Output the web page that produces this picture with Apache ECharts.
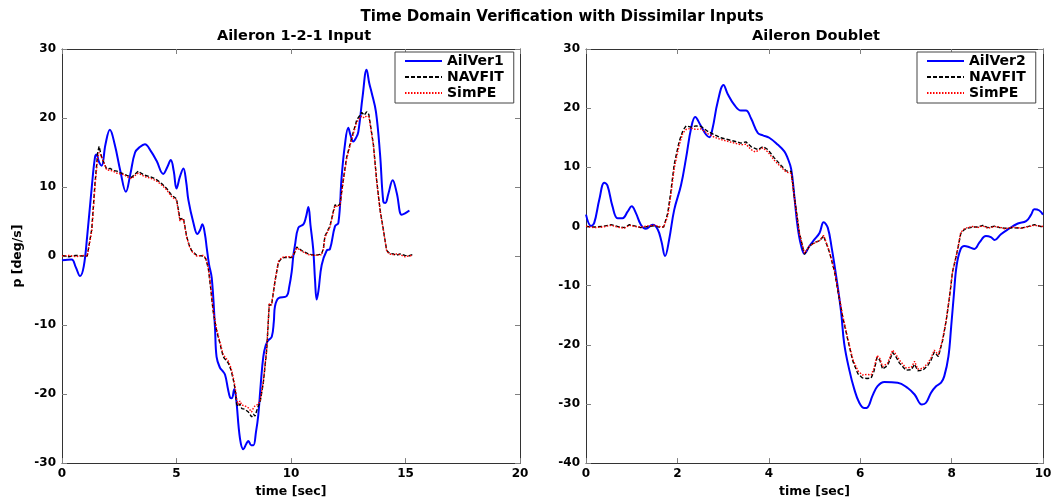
<!DOCTYPE html>
<html>
<head>
<meta charset="utf-8">
<script src="https://cdn.jsdelivr.net/npm/echarts@6/dist/echarts.min.js"></script>
<style>
  html, body { margin: 0; padding: 0; background: #fff; }
  #chart { width: 1058px; height: 503px; }
</style>
</head>
<body>
<div id="chart"></div>
<script>
// Roll rate p [deg/s] against time [sec] for two aileron input shapes.
const titleText = 'Time Domain Verification with Dissimilar Inputs';
const leftTitle = 'Aileron 1-2-1 Input';
const rightTitle = 'Aileron Doublet';

// Aileron 1-2-1 input: [time, p]
const ailVer1 = [[0,-0.6],[0.42,-0.5],[0.6,-1.6],[0.79,-2.9],[0.95,-1.5],[1.1,2.9],[1.3,10],[1.44,14.3],[1.51,14.7],[1.62,13.6],[1.73,13.1],[1.9,16.2],[2.09,18.3],[2.3,16.2],[2.55,12.3],[2.79,9.3],[2.98,11.8],[3.19,15],[3.4,15.8],[3.62,16.2],[3.88,15.2],[4.13,13.8],[4.42,11.9],[4.6,12.9],[4.75,13.9],[4.88,12.3],[5.0,9.8],[5.15,11.5],[5.3,12.7],[5.42,10.8],[5.52,8.1],[5.74,4.8],[5.91,3.2],[6.02,3.7],[6.13,4.6],[6.24,3.2],[6.32,1.2],[6.42,-1.2],[6.54,-3.2],[6.68,-10.3],[6.75,-14.6],[6.9,-16.2],[7.0,-16.6],[7.12,-17.2],[7.25,-19.3],[7.34,-20.5],[7.42,-20.6],[7.52,-19.3],[7.6,-20.5],[7.77,-26.4],[7.92,-28],[8.05,-27.2],[8.14,-26.8],[8.26,-27.4],[8.36,-27.4],[8.47,-25.5],[8.57,-23.1],[8.68,-18.5],[8.79,-14.6],[8.9,-12.9],[9.01,-12.2],[9.16,-11.7],[9.25,-9.5],[9.3,-7.3],[9.45,-6.1],[9.81,-5.8],[9.92,-4.5],[10.03,-2.3],[10.1,0.0],[10.17,1.5],[10.32,4.1],[10.54,4.6],[10.65,5.6],[10.76,7.1],[10.85,4.5],[10.97,1.0],[11.05,-3.5],[11.12,-6.3],[11.2,-5.0],[11.34,-1.3],[11.56,0.8],[11.7,1.0],[11.92,4.3],[12.07,4.8],[12.21,11.4],[12.35,16],[12.5,18.6],[12.6,17.5],[12.72,16.6],[12.85,17.2],[12.94,18],[13.13,23.2],[13.3,27],[13.42,25],[13.52,23.7],[13.71,20.9],[13.89,14.7],[14.03,7.9],[14.12,7.7],[14.25,9],[14.44,11],[14.62,9.1],[14.83,6.0],[14.98,6.2],[15.17,6.6]];

const navfit1 = [[0,0.1],[0.3,-0.1],[0.6,0.1],[0.9,0],[1.1,0],[1.3,3.9],[1.44,10.5],[1.56,15],[1.62,15.9],[1.73,14.3],[1.95,12.6],[2.1,12.7],[2.24,12.4],[2.4,12.3],[2.53,12.1],[2.7,11.9],[2.83,11.7],[3.04,11.4],[3.2,11.9],[3.33,12.3],[3.45,12.0],[3.62,11.7],[3.85,11.5],[4.06,11.2],[4.2,10.9],[4.35,10.5],[4.57,9.8],[4.79,8.8],[5.0,8.3],[5.08,6.8],[5.15,5.3],[5.3,5.5],[5.44,2.9],[5.55,1.6],[5.66,0.8],[5.88,0.1],[6.17,0],[6.28,-0.4],[6.39,-1.8],[6.46,-3.7],[6.6,-8],[6.75,-10.8],[6.9,-12.7],[7.04,-14.6],[7.26,-15.5],[7.38,-16.5],[7.48,-17.9],[7.56,-19.3],[7.63,-21.5],[7.7,-21.8],[7.77,-21.4],[7.85,-22.1],[7.99,-22.2],[8.14,-22.6],[8.28,-23.3],[8.36,-22.9],[8.43,-23.2],[8.55,-21.9],[8.65,-21.2],[8.79,-18.4],[8.94,-13.6],[9.05,-7.0],[9.15,-7.1],[9.23,-7.0],[9.3,-3.7],[9.45,-0.9],[9.6,-0.3],[9.74,-0.2],[10.03,-0.2],[10.15,0.4],[10.25,1.3],[10.47,0.8],[10.76,0.3],[11.05,0.1],[11.34,0.3],[11.42,1.2],[11.48,2.9],[11.7,4.3],[11.85,6.5],[11.92,7.4],[12.05,7.3],[12.14,7.5],[12.28,11],[12.43,14.3],[12.65,17.1],[12.87,19.7],[13.09,20.8],[13.2,20.4],[13.3,20.9],[13.4,20.5],[13.48,20.6],[13.6,16.1],[13.74,11],[13.89,6.7],[14.03,3.9],[14.18,0.8],[14.3,0.4],[14.47,0.3],[14.6,0.1],[14.76,0.3],[14.98,0.1],[15.13,0],[15.3,0.2]];

const simpe1 = [[0,0],[0.3,0.1],[0.6,-0.1],[0.9,0.1],[1.1,0],[1.3,3.6],[1.44,10.1],[1.56,14.3],[1.62,15.0],[1.73,14.4],[1.95,12.5],[2.1,12.4],[2.24,12.3],[2.4,12.0],[2.53,11.9],[2.7,11.8],[2.83,11.5],[3.04,11.2],[3.2,11.7],[3.33,12.0],[3.45,11.8],[3.62,11.5],[3.85,11.3],[4.06,11.0],[4.2,10.7],[4.35,10.3],[4.57,9.6],[4.79,8.6],[5.0,8.1],[5.08,6.6],[5.15,5.1],[5.3,5.4],[5.44,2.8],[5.55,1.5],[5.66,0.7],[5.88,0],[6.17,0.1],[6.28,-0.3],[6.39,-1.7],[6.46,-3.5],[6.6,-7.8],[6.75,-10.6],[6.9,-12.5],[7.04,-14.3],[7.26,-15.2],[7.38,-16.2],[7.48,-17.6],[7.56,-19],[7.63,-20.8],[7.7,-21.5],[7.77,-21.0],[7.85,-21.6],[7.99,-21.7],[8.14,-22.0],[8.28,-22.6],[8.36,-22.0],[8.43,-21.7],[8.55,-21.5],[8.65,-21.0],[8.79,-18.2],[8.94,-13.4],[9.05,-6.9],[9.15,-7.1],[9.23,-6.9],[9.3,-3.6],[9.45,-0.8],[9.6,-0.2],[9.74,-0.1],[10.03,-0.1],[10.15,0.5],[10.25,1.2],[10.47,0.7],[10.76,0.2],[11.05,0.1],[11.34,0.2],[11.42,1.1],[11.48,2.7],[11.7,4.2],[11.85,6.3],[11.92,7.3],[12.05,7.2],[12.14,7.3],[12.28,10.8],[12.43,14.1],[12.65,16.9],[12.87,19.4],[13.09,20.3],[13.2,20.0],[13.3,20.3],[13.4,20.2],[13.48,20.3],[13.6,16.0],[13.74,10.9],[13.89,6.6],[14.03,3.8],[14.18,0.7],[14.3,0.3],[14.47,0.2],[14.6,0.3],[14.76,0.2],[14.98,-0.1],[15.13,0],[15.3,0.1]];

// Aileron doublet: [time, p]
const ailVer2 = [[0,2.0],[0.11,0.1],[0.18,0.6],[0.29,4.5],[0.4,7.4],[0.47,6.9],[0.58,3.4],[0.69,1.4],[0.8,1.4],[0.91,2.5],[1.0,3.4],[1.09,2.3],[1.2,0.3],[1.31,-0.4],[1.46,0.3],[1.57,-0.5],[1.65,-2.5],[1.73,-5.0],[1.82,-2.2],[1.93,2.8],[2.08,7],[2.19,11.6],[2.3,16.6],[2.39,18.5],[2.5,17.2],[2.63,15.5],[2.7,15.1],[2.77,16.6],[2.88,21],[3.01,23.9],[3.1,22.4],[3.25,20.5],[3.39,19.6],[3.5,19.6],[3.61,18.3],[3.76,15.8],[3.87,15.4],[4.01,15],[4.2,13.8],[4.34,12.7],[4.41,11.6],[4.49,9.7],[4.56,5],[4.63,0],[4.7,-3],[4.78,-4.6],[4.89,-3.3],[5.0,-2.2],[5.11,-1.1],[5.2,0.7],[5.29,-0.2],[5.38,-3.8],[5.47,-8.2],[5.58,-14.3],[5.65,-19.8],[5.76,-24.2],[5.87,-27.5],[5.98,-29.8],[6.09,-30.7],[6.16,-30.6],[6.27,-28.6],[6.38,-27],[6.53,-26.3],[6.82,-26.4],[7.04,-27.3],[7.19,-28.4],[7.35,-30.1],[7.44,-29.8],[7.55,-28.1],[7.66,-27],[7.77,-26.4],[7.84,-25.3],[7.93,-22],[7.99,-17],[8.05,-11.5],[8.11,-6.6],[8.2,-3.8],[8.28,-3.3],[8.39,-3.5],[8.5,-3.8],[8.61,-2.7],[8.75,-1.6],[8.86,-1.8],[8.94,-2.3],[9.08,-1.3],[9.23,-0.5],[9.45,0.5],[9.63,0.9],[9.74,2.0],[9.81,2.9],[9.92,2.7],[10,2.0]];

const navfit2 = [[0,0],[0.18,-0.1],[0.36,0],[0.55,0.3],[0.69,0],[0.84,-0.2],[0.95,0.3],[1.06,0.1],[1.2,-0.2],[1.35,0],[1.49,0.1],[1.6,-0.1],[1.7,-0.1],[1.79,2.3],[1.86,6.1],[1.93,10.5],[2.04,14.4],[2.12,16.2],[2.19,17.0],[2.3,16.8],[2.41,17],[2.52,16.9],[2.66,16.1],[2.81,15.5],[2.95,15],[3.1,14.7],[3.25,14.4],[3.39,14.1],[3.5,14.3],[3.61,13.5],[3.76,13.0],[3.87,13.5],[3.98,13.0],[4.12,11.6],[4.27,10.3],[4.38,9.4],[4.49,9.3],[4.56,5],[4.67,-1.1],[4.78,-4.7],[4.89,-3.3],[5.0,-2.7],[5.11,-2.4],[5.2,-1.6],[5.33,-4.4],[5.44,-7.7],[5.54,-12.1],[5.62,-15.4],[5.73,-19.2],[5.84,-22.8],[5.95,-24.9],[6.05,-25.6],[6.15,-25.7],[6.24,-25.6],[6.3,-24.5],[6.37,-22.1],[6.43,-22.6],[6.49,-24.1],[6.6,-23.5],[6.71,-21.3],[6.78,-22.0],[6.86,-23.1],[7.0,-24.3],[7.12,-24.2],[7.19,-23.3],[7.26,-24.4],[7.37,-24.3],[7.48,-23.5],[7.55,-22.6],[7.62,-21.2],[7.71,-22.0],[7.8,-19.4],[7.88,-16],[7.95,-12.2],[8.02,-7.7],[8.13,-4.0],[8.2,-1.2],[8.28,-0.5],[8.35,-0.3],[8.46,-0.1],[8.57,-0.1],[8.68,0.2],[8.79,-0.2],[8.94,0.05],[9.05,-0.2],[9.16,-0.3],[9.34,-0.2],[9.52,-0.3],[9.7,0.05],[9.81,0.3],[10,-0.1]];

const simpe2 = [[0,0.05],[0.18,-0.2],[0.36,-0.1],[0.55,0.2],[0.69,-0.1],[0.84,-0.3],[0.95,0.2],[1.06,0],[1.2,-0.1],[1.35,0.1],[1.49,0.2],[1.6,0],[1.7,-0.1],[1.79,1.8],[1.86,5.5],[1.93,9.8],[2.04,13.8],[2.12,15.8],[2.19,16.4],[2.3,16.6],[2.41,16.4],[2.52,16.5],[2.66,15.7],[2.81,15.1],[2.95,14.7],[3.1,14.4],[3.25,14.1],[3.39,13.8],[3.5,13.9],[3.61,13.0],[3.7,12.6],[3.76,12.8],[3.87,13.3],[3.98,12.6],[4.12,11.2],[4.27,10.0],[4.38,9.2],[4.49,9.0],[4.56,4.8],[4.67,-1.2],[4.78,-4.5],[4.89,-3.3],[5.0,-2.8],[5.11,-2.4],[5.2,-1.5],[5.33,-4.3],[5.44,-7.6],[5.54,-11.9],[5.62,-15.2],[5.73,-19.0],[5.84,-22.5],[5.95,-24.4],[6.05,-25.1],[6.15,-25.0],[6.24,-25.1],[6.3,-24.0],[6.37,-21.8],[6.43,-22.3],[6.49,-23.7],[6.6,-23.1],[6.71,-20.9],[6.78,-21.6],[6.86,-22.6],[7.0,-23.9],[7.12,-23.8],[7.19,-22.8],[7.26,-24.1],[7.37,-24.0],[7.48,-23.1],[7.55,-22.2],[7.62,-20.9],[7.71,-21.7],[7.8,-19.2],[7.88,-15.9],[7.95,-12.1],[8.02,-7.7],[8.13,-4.0],[8.2,-1.0],[8.28,-0.4],[8.35,-0.2],[8.46,0],[8.57,-0.2],[8.68,0.1],[8.79,-0.3],[8.94,0],[9.05,-0.1],[9.16,-0.4],[9.34,-0.1],[9.52,-0.3],[9.7,0],[9.81,0.2],[10,0]];

const FONT = '"DejaVu Sans", "Liberation Sans", Arial, sans-serif';
const AXIS_COLOR = '#333';
const TICK_COLOR = '#808080';

function frameLine() {
  return { show: true, onZero: false, lineStyle: { color: AXIS_COLOR, width: 1 } };
}
function innerTicks() {
  return { show: true, inside: true, length: 5, lineStyle: { color: TICK_COLOR } };
}
function bottomAxis(grid, max, step) {
  return {
    type: 'value', gridIndex: grid, min: 0, max: max, interval: step, position: 'bottom',
    name: 'time [sec]', nameLocation: 'middle', nameGap: 18,
    nameTextStyle: { fontFamily: FONT, fontWeight: 'bold', fontSize: 12.5, color: '#000' },
    axisLine: frameLine(), axisTick: innerTicks(),
    axisLabel: { fontFamily: FONT, fontWeight: 'bold', fontSize: 12, color: '#000', margin: 5 },
    splitLine: { show: false }
  };
}
function topAxis(grid, max, step) {
  return {
    type: 'value', gridIndex: grid, min: 0, max: max, interval: step, position: 'top',
    axisLine: frameLine(), axisTick: innerTicks(),
    axisLabel: { show: false }, splitLine: { show: false }
  };
}
function leftAxis(grid, min, max, name) {
  return {
    type: 'value', gridIndex: grid, min: min, max: max, interval: 10, position: 'left',
    name: name, nameLocation: 'middle', nameGap: 38, nameRotate: 90,
    nameTextStyle: { fontFamily: FONT, fontWeight: 'bold', fontSize: 12.5, color: '#000' },
    axisLine: frameLine(), axisTick: innerTicks(),
    axisLabel: { fontFamily: FONT, fontWeight: 'bold', fontSize: 12, color: '#000', margin: 6 },
    splitLine: { show: false }
  };
}
function rightAxis(grid, min, max) {
  return {
    type: 'value', gridIndex: grid, min: min, max: max, interval: 10, position: 'right',
    axisLine: frameLine(), axisTick: innerTicks(),
    axisLabel: { show: false }, splitLine: { show: false }
  };
}

function measured(name, data, xi, yi) {
  return { name: name, type: 'line', data: data, xAxisIndex: xi, yAxisIndex: yi,
    symbol: 'none', smooth: 0.4, z: 3,
    lineStyle: { color: '#0000ff', width: 2 }, itemStyle: { color: '#0000ff' } };
}
function navfit(data, xi, yi) {
  return { name: 'NAVFIT', type: 'line', data: data, xAxisIndex: xi, yAxisIndex: yi,
    symbol: 'none', z: 4,
    lineStyle: { color: '#000000', width: 1.4, type: [4, 2] }, itemStyle: { color: '#000000' } };
}
function simpe(data, xi, yi) {
  return { name: 'SimPE', type: 'line', data: data, xAxisIndex: xi, yAxisIndex: yi,
    symbol: 'none', z: 5,
    lineStyle: { color: '#ff0000', width: 1.4, type: [1.5, 1.5] }, itemStyle: { color: '#ff0000' } };
}
function legendAt(left, names) {
  return {
    data: names, orient: 'vertical', left: left, top: 52,
    itemWidth: 37, itemHeight: 10, itemGap: 2,
    padding: [2, 10, 3, 9],
    borderColor: '#444', borderWidth: 1, backgroundColor: '#fff',
    itemStyle: { color: 'rgba(0,0,0,0)', borderColor: 'rgba(0,0,0,0)', borderWidth: 0, opacity: 0 },
    textStyle: { fontFamily: FONT, fontWeight: 'bold', fontSize: 14, lineHeight: 14, color: '#000' },
    selectedMode: false
  };
}
function caption(text, x, y, size) {
  return { type: 'text', x: x, y: y, style: { text: text, font: 'bold ' + size + 'px ' + FONT, fill: '#000',
    align: 'center', verticalAlign: 'middle', textAlign: 'center', textVerticalAlign: 'middle' } };
}

const chart = echarts.init(document.getElementById('chart'));
chart.setOption({
  animation: false,
  backgroundColor: '#fff',
  grid: [
    { left: 62, top: 49, width: 458, height: 423 },
    { left: 586, top: 49, width: 457, height: 423 }
  ],
  xAxis: [bottomAxis(0, 20, 5), bottomAxis(1, 10, 2), topAxis(0, 20, 5), topAxis(1, 10, 2)],
  yAxis: [leftAxis(0, -30, 30, 'p [deg/s]'), leftAxis(1, -40, 30, ''), rightAxis(0, -30, 30), rightAxis(1, -40, 30)],
  legend: [legendAt(395, ['AilVer1', 'NAVFIT', 'SimPE']), legendAt(917, ['AilVer2', 'NAVFIT', 'SimPE'])],
  graphic: [
    caption(titleText, 562, 17, 15),
    caption(leftTitle, 294, 36, 14.5),
    caption(rightTitle, 816, 36, 14.5)
  ],
  series: [
    measured('AilVer1', ailVer1, 0, 0), navfit(navfit1, 0, 0), simpe(simpe1, 0, 0),
    measured('AilVer2', ailVer2, 1, 1), navfit(navfit2, 1, 1), simpe(simpe2, 1, 1)
  ]
});
</script>
</body>
</html>
